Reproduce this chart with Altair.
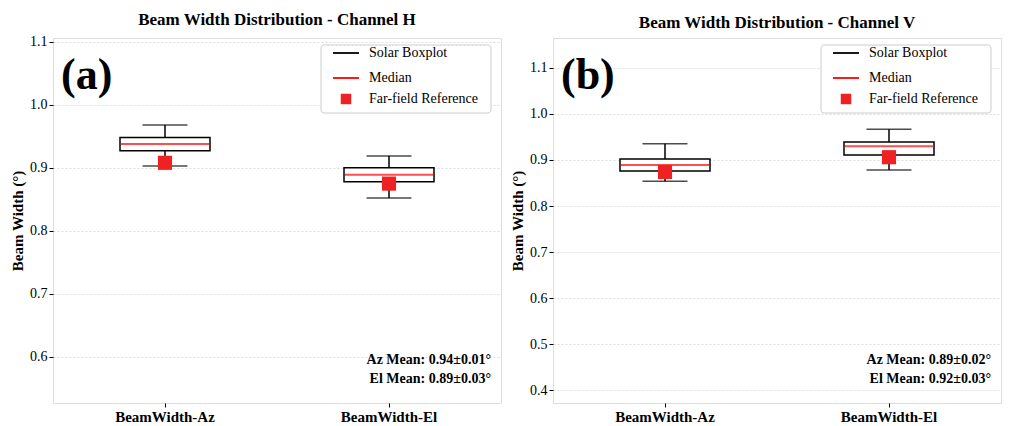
import pandas as pd
import altair as alt

FONT = "Liberation Serif"

categories = ["BeamWidth-Az", "BeamWidth-El"]

# channel H
h_min = [0.903, 0.852]
h_q1 = [0.927, 0.878]
h_med = [0.938, 0.889]
h_q3 = [0.948, 0.900]
h_max = [0.968, 0.919]
h_ref = [0.908, 0.875]

# channel V
v_min = [0.854, 0.878]
v_q1 = [0.876, 0.911]
v_med = [0.889, 0.930]
v_q3 = [0.902, 0.939]
v_max = [0.935, 0.967]
v_ref = [0.874, 0.906]

legend_labels = ["Solar Boxplot", "Median", "Far-field Reference"]

W, H = 448, 365


def panel(title, label, mins, q1, med, q3, maxs, ref, domain, ticks, notes):
    df = pd.DataFrame({"cat": categories, "lo": mins, "q1": q1, "med": med,
                       "q3": q3, "hi": maxs, "ref": ref})
    x = alt.X("cat:N", title=None, sort=categories,
              scale=alt.Scale(paddingInner=0, paddingOuter=0),
              axis=alt.Axis(labelAngle=0, labelFont=FONT, labelFontSize=15,
                            labelFontWeight="bold", labelColor="black",
                            domain=False, tickColor="black", tickSize=4))
    y = alt.Y("lo:Q", title="Beam Width (°)",
              scale=alt.Scale(domain=domain, nice=False, zero=False),
              axis=alt.Axis(values=ticks, format=".1f", labelFont=FONT,
                            labelFontSize=14, labelColor="black",
                            titleFont=FONT, titleFontSize=15, titleColor="black",
                            grid=True, gridDash=[2, 2], gridColor="#dddddd",
                            domain=False, tickColor="black", tickSize=4))
    base = alt.Chart(df).encode(x=x)
    w_lo = base.mark_rule(color="black", strokeWidth=1.5).encode(y=y, y2="q1:Q")
    w_hi = base.mark_rule(color="black", strokeWidth=1.5).encode(y="q3:Q", y2="hi:Q")
    cap_lo = base.mark_tick(color="black", size=45, thickness=1.5, orient="horizontal").encode(y="lo:Q")
    cap_hi = base.mark_tick(color="black", size=45, thickness=1.5, orient="horizontal").encode(y="hi:Q")
    box = base.mark_bar(size=90, fill="white", stroke="black", strokeWidth=1.5).encode(y="q1:Q", y2="q3:Q")
    median = base.mark_tick(color="red", size=88, thickness=2, orient="horizontal").encode(y="med:Q")
    refm = base.mark_square(color="#ee2222", opacity=1, size=200).encode(y="ref:Q")

    # legend drawn manually
    leg = pd.DataFrame({"t": legend_labels, "yy": [15, 40, 61]})
    leg_box = alt.Chart(pd.DataFrame({"a": [0]})).mark_rect(
        fill="white", stroke="#cccccc", cornerRadius=3).encode(
        x=alt.value(268), x2=alt.value(438), y=alt.value(7), y2=alt.value(75))
    leg_lines = alt.Chart(leg.iloc[:2]).mark_rule(strokeWidth=1.8).encode(
        x=alt.value(280), x2=alt.value(306), y=alt.Y("yy:Q", scale=None),
        color=alt.Color("t:N", scale=alt.Scale(domain=legend_labels[:2], range=["black", "red"]), legend=None))
    leg_sq = alt.Chart(leg.iloc[2:]).mark_square(color="#ee2222", opacity=1, size=110).encode(
        x=alt.value(293), y=alt.Y("yy:Q", scale=None))
    leg_txt = alt.Chart(leg).mark_text(align="left", baseline="middle", font=FONT, fontSize=14).encode(
        x=alt.value(316), y=alt.Y("yy:Q", scale=None), text="t:N")
    lab = alt.Chart(pd.DataFrame({"t": [label]})).mark_text(
        align="left", baseline="middle", font=FONT, fontSize=44, fontWeight="bold").encode(
        x=alt.value(8), y=alt.value(38), text="t:N")
    nt = pd.DataFrame({"t": notes, "yy": [322, 341]})
    note = alt.Chart(nt).mark_text(align="right", baseline="middle", font=FONT,
                                   fontSize=14, fontWeight="bold").encode(
        x=alt.value(438), y=alt.Y("yy:Q", scale=None), text="t:N")

    return alt.layer(w_lo, w_hi, cap_lo, cap_hi, box, median, refm,
                     leg_box, leg_lines, leg_sq, leg_txt, lab, note).resolve_scale(y="shared").properties(
        width=W, height=H,
        title=alt.TitleParams(title, font=FONT, fontSize=17, fontWeight="bold", color="black", offset=6))


left = panel("Beam Width Distribution - Channel H", "(a)", h_min, h_q1, h_med, h_q3, h_max, h_ref,
             [0.527, 1.106], [0.6, 0.7, 0.8, 0.9, 1.0, 1.1],
             ["Az Mean: 0.94±0.01°", "El Mean: 0.89±0.03°"])
right = panel("Beam Width Distribution - Channel V", "(b)", v_min, v_q1, v_med, v_q3, v_max, v_ref,
              [0.372, 1.165], [0.4, 0.5, 0.6, 0.7, 0.8, 0.9, 1.0, 1.1],
              ["Az Mean: 0.89±0.02°", "El Mean: 0.92±0.03°"])

chart = alt.hconcat(left, right, spacing=8).configure_view(
    stroke="black", strokeWidth=1.2).configure(padding={"left": 2, "top": 2, "right": 0, "bottom": 0})
chart.save("out.html", embed_options={"renderer": "svg", "actions": False})
